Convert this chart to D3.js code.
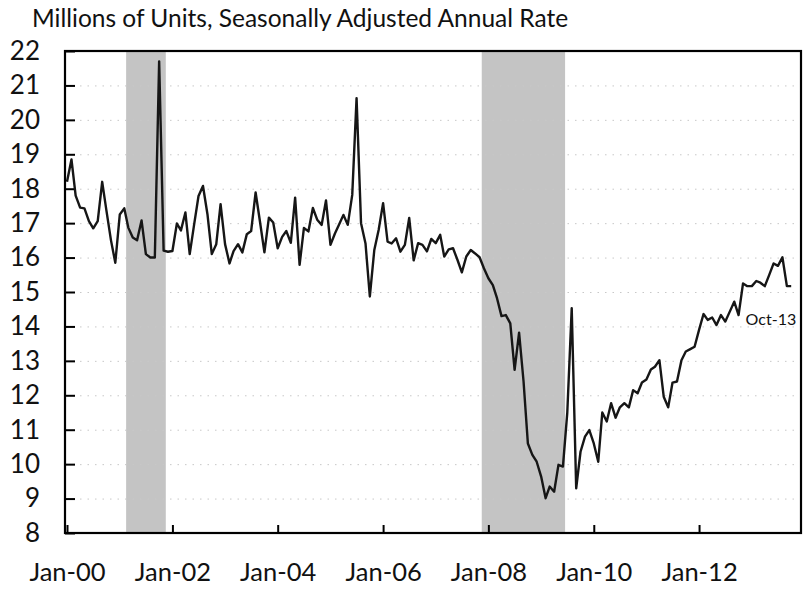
<!DOCTYPE html>
<html lang="en">
  <head>
    <meta charset="UTF-8" />
    <title>Light vehicle sales</title>
    <script src="https://d3js.org/d3.v7.min.js"></script>
    <style>
      body { margin: 0; background: #fff; }
      svg { display: block; font-family: Lato, "Open Sans", sans-serif; }
    </style>
  </head>
  <body>
    <svg width="804" height="592"></svg>
    <script>
      // monthly values, Jan-00 .. Oct-13 (millions of units, SAAR)
      let firstMonth = "2000-01";
      let sales = [
        18.2, 18.85, 17.8, 17.45, 17.43, 17.06, 16.85, 17.06, 18.2, 17.35, 16.5, 15.85,
        17.25, 17.43, 16.87, 16.58, 16.5, 17.08, 16.1, 16.0, 16.0, 21.7, 16.2, 16.17,
        16.19, 16.99, 16.79, 17.31, 16.1, 16.97, 17.79, 18.08, 17.26, 16.1, 16.39, 17.55,
        16.39, 15.83, 16.19, 16.39, 16.15, 16.68, 16.77, 17.89, 17.02, 16.15, 17.16, 17.02,
        16.27, 16.6, 16.77, 16.43, 17.74, 15.79, 16.86, 16.76, 17.44, 17.1, 16.95, 17.66,
        16.37, 16.7, 16.95, 17.24, 16.95, 17.82, 20.63, 17.0, 16.41, 14.87, 16.22, 16.8,
        17.58, 16.46, 16.41, 16.56, 16.17, 16.37, 17.15, 15.92, 16.42, 16.37, 16.18, 16.54,
        16.42, 16.66, 16.03, 16.24, 16.27, 15.93, 15.57, 16.03, 16.22, 16.12, 16.01, 15.69,
        15.4, 15.2, 14.82, 14.3, 14.33, 14.09, 12.74, 13.82, 12.4, 10.6, 10.27, 10.07,
        9.64, 9.01, 9.35, 9.2, 9.98, 9.93, 11.48, 14.53, 9.3, 10.36, 10.8, 10.99,
        10.6, 10.07, 11.5, 11.24, 11.77, 11.35, 11.65, 11.77, 11.65, 12.15, 12.06, 12.37,
        12.46, 12.75, 12.83, 13.02, 11.96, 11.65, 12.37, 12.4, 13.02, 13.27, 13.34, 13.41,
        13.9, 14.36, 14.19, 14.26, 14.04, 14.33, 14.14, 14.43, 14.72, 14.33, 15.25, 15.17,
        15.17, 15.32, 15.27, 15.17, 15.49, 15.83, 15.76, 16.01, 15.17, 15.17
      ];

      // shaded recessions (first and last month)
      let recessions = [
        ["2001-03", "2001-11"],
        ["2007-12", "2009-06"]
      ];

      let yTicks = [8, 9, 10, 11, 12, 13, 14, 15, 16, 17, 18, 19, 20, 21, 22];
      let xTickLabels = ["Jan-00", "Jan-02", "Jan-04", "Jan-06", "Jan-08", "Jan-10", "Jan-12"];
      let endLabel = "Oct-13";
      let title = "Millions of Units, Seasonally Adjusted Annual Rate";

      let parseMonth = d3.timeParse("%Y-%m");
      let start = parseMonth(firstMonth);
      let data = sales.map((v, i) => ({ date: d3.timeMonth.offset(start, i), value: v }));

      let svg = d3.select("svg");
      let plotLeft = 65, plotRight = 801, plotTop = 51, plotBottom = 533;

      let x = d3.scaleTime()
        .domain([parseMonth("2000-01"), parseMonth("2013-12")])
        .range([67, 800]);
      let y = d3.scaleLinear().domain([8, 22]).range([plotBottom, plotTop]);

      // title
      svg.append("text")
        .attr("x", 32)
        .attr("y", 27)
        .attr("font-size", 24.5)
        .attr("fill", "#111")
        .text(title);

      // recession bars
      let halfMonth = 15 * 24 * 3600 * 1000;
      let recStart = (d) => x(new Date(+parseMonth(d[0]) - halfMonth));
      let recEnd = (d) => x(new Date(+parseMonth(d[1]) + halfMonth));
      svg.append("g")
        .selectAll("rect")
        .data(recessions)
        .enter()
        .append("rect")
        .attr("x", recStart)
        .attr("width", (d) => recEnd(d) - recStart(d))
        .attr("y", plotTop)
        .attr("height", plotBottom - plotTop)
        .attr("fill", "#c4c4c4");

      // dotted gridlines
      svg.append("g")
        .attr("transform", `translate(${plotLeft},0)`)
        .call(d3.axisLeft(y).tickValues(yTicks.slice(1, -1)).tickSize(-(plotRight - plotLeft)).tickFormat(""))
        .call((g) => g.select(".domain").remove())
        .selectAll("line")
        .attr("stroke", "#c8c8c8")
        .attr("stroke-dasharray", "1.5,6");

      // y axis
      svg.append("g")
        .attr("transform", `translate(${plotLeft},0)`)
        .call(d3.axisLeft(y).tickValues(yTicks).tickSizeInner(-10).tickSizeOuter(0).tickPadding(25))
        .call((g) => g.select(".domain").remove())
        .call((g) => g.selectAll("line").attr("stroke", "#000").attr("stroke-width", 2))
        .selectAll("text")
        .attr("font-size", 26)
        .attr("fill", "#111")
        .attr("font-family", "Lato, sans-serif");

      // x axis
      let xTickDates = xTickLabels.map((s) => d3.timeParse("%b-%y")(s));
      svg.append("g")
        .attr("transform", `translate(0,${plotBottom})`)
        .call(d3.axisBottom(x)
          .tickValues(xTickDates)
          .tickSizeInner(-8)
          .tickSizeOuter(0)
          .tickPadding(30)
          .tickFormat((d, i) => xTickLabels[i]))
        .call((g) => g.select(".domain").remove())
        .call((g) => g.selectAll("line").attr("stroke", "#000").attr("stroke-width", 2))
        .selectAll("text")
        .attr("font-size", 25.5)
        .attr("fill", "#111")
        .attr("font-family", "Lato, sans-serif");

      // sales line
      let line = d3.line()
        .x((d) => x(d.date))
        .y((d) => y(d.value));

      svg.append("path")
        .datum(data)
        .attr("d", line)
        .attr("fill", "none")
        .attr("stroke", "#161616")
        .attr("stroke-width", 2.4)
        .attr("stroke-linejoin", "round");

      // label for last point
      let last = data[data.length - 1];
      svg.append("text")
        .attr("x", x(last.date) + 5)
        .attr("y", y(last.value) + 39)
        .attr("text-anchor", "end")
        .attr("font-size", 16)
        .attr("fill", "#111")
        .text(endLabel);

      // frame
      svg.append("rect")
        .attr("x", plotLeft)
        .attr("y", plotTop)
        .attr("width", plotRight - plotLeft)
        .attr("height", plotBottom - plotTop)
        .attr("fill", "none")
        .attr("stroke", "#000")
        .attr("stroke-width", 2.2);
    </script>
  </body>
</html>
